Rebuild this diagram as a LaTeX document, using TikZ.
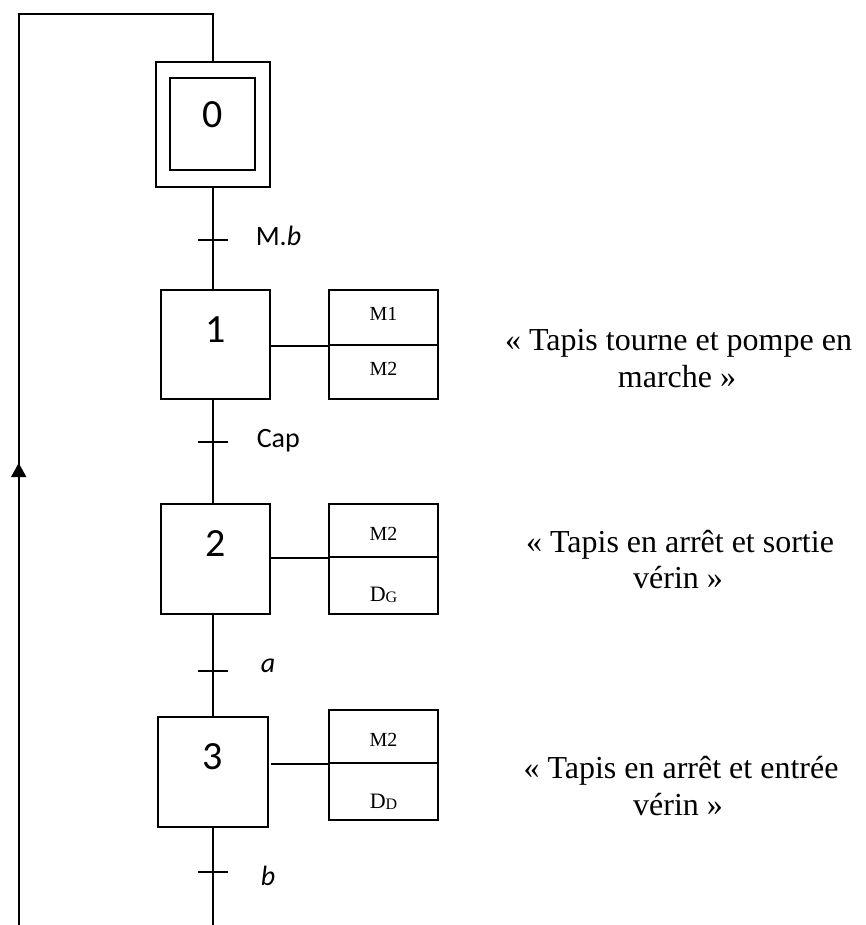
\documentclass[tikz,border=0pt]{standalone}
\usepackage{fontspec}
\setmainfont{Liberation Serif}
\newfontfamily\carl{Carlito}
\usetikzlibrary{arrows.meta}
\begin{document}
\begin{tikzpicture}[x=1pt,y=-1pt,line width=1.6pt,
  stepbox/.style={draw,inner sep=0pt,minimum width=109pt,minimum height=109pt,
    font=\carl\fontsize{40}{40}\selectfont,text height=25pt,text depth=30pt},
  cell/.style={draw,inner sep=0pt,minimum width=109pt,
    font=\fontsize{20}{20}\selectfont,text depth=10pt},
  dcell/.style={cell,font=\fontsize{22}{22}\selectfont},
  recep/.style={anchor=base west,inner sep=0pt,font=\carl\fontsize{28}{28}\selectfont},
  comment/.style={anchor=base,inner sep=0pt,font=\fontsize{32}{32}\selectfont},
  tip/.style={-{Triangle[width=15pt,length=14pt]}}]
\useasboundingbox (0,0) rectangle (865,925);

% step 0
\node[draw,inner sep=0pt,minimum width=114pt,minimum height=125pt] (s0) at (213,124.5) {};
\node[draw,inner sep=0pt,minimum width=85pt,minimum height=92pt,
  font=\carl\fontsize{40}{40}\selectfont,text height=25pt,text depth=18pt] (s0i) at (212.5,124) {0};

% steps
\node[stepbox] (s1) at (215.5,344.5) {1};
\node[stepbox,minimum height=110pt] (s2) at (215.5,559) {2};
\node[stepbox,minimum height=110pt,minimum width=110pt] (s3) at (213,772) {3};

% action boxes
\node[cell,minimum height=55pt,text height=16pt] (a1t) at (383.5,317.5) {M1};
\node[cell,minimum height=54pt,text height=16pt] (a1b) at (383.5,372) {M2};
\node[cell,minimum height=53pt,text height=29pt] (a2t) at (383.5,530.5) {M2};
\node[dcell,minimum height=57pt,text height=42pt] (a2b) at (383.5,585.5) {D{\fontsize{16}{16}\selectfont\raisebox{-1pt}{G}}};
\node[cell,minimum height=53pt,text height=29pt] (a3t) at (383.5,736.5) {M2};
\node[dcell,minimum height=57pt,text height=43pt] (a3b) at (383.5,791.5) {D{\fontsize{16}{16}\selectfont\raisebox{-1pt}{D}}};

% links step -> actions
\draw (s1.east |- a1t.south) -- (a1t.south west);
\draw (s2.east |- a2t.south) -- (a2t.south west);
\draw ([xshift=2pt]s3.east |- a3t.south) -- (a3t.south west);

% transitions
\coordinate (t1) at (213,240);
\coordinate (t2) at (213,442);
\coordinate (t3) at (213,671);
\coordinate (t4) at (213,872);
\coordinate (bot) at (213,925);
\draw (s0.south) -- (s1.north -| s0.south);
\draw (s1.south -| s0.south) -- (s2.north -| s0.south);
\draw (s2.south -| s0.south) -- (s3.north -| s0.south);
\draw (s3.south) -- (bot);
\foreach \t in {t1,t2,t3,t4} {\draw ([xshift=-15pt]\t) -- ([xshift=15pt]\t);}

\node[recep] (r1) at (255,245) {M.\textit{b}};
\node[recep] (r2) at (256,447) {Cap};
\node[recep] (r3) at (260,672) {\textit{a}};
\node[recep] (r4) at (260,885) {\textit{b}};

% loop back
\coordinate (bl) at (18.7,925);
\coordinate (tl) at (18.7,14.3);
\coordinate (tr) at (213,14.3);
\coordinate (ab) at (18.7,480);
\coordinate (at) at (18.7,463);
\draw (bl) -- (tl) -- (tr) -- (s0.north);
\draw[tip] (ab) -- (at);

% comments
\node[comment] (c1a) at (678.5,350) {« Tapis tourne et pompe en};
\node[comment] (c1b) at (677,387) {marche »};
\node[comment] (c2a) at (680,552) {« Tapis en arrêt et sortie};
\node[comment] (c2b) at (678,588) {vérin »};
\node[comment] (c3a) at (681,778) {« Tapis en arrêt et entrée};
\node[comment] (c3b) at (678,815) {vérin »};
\end{tikzpicture}
\end{document}
